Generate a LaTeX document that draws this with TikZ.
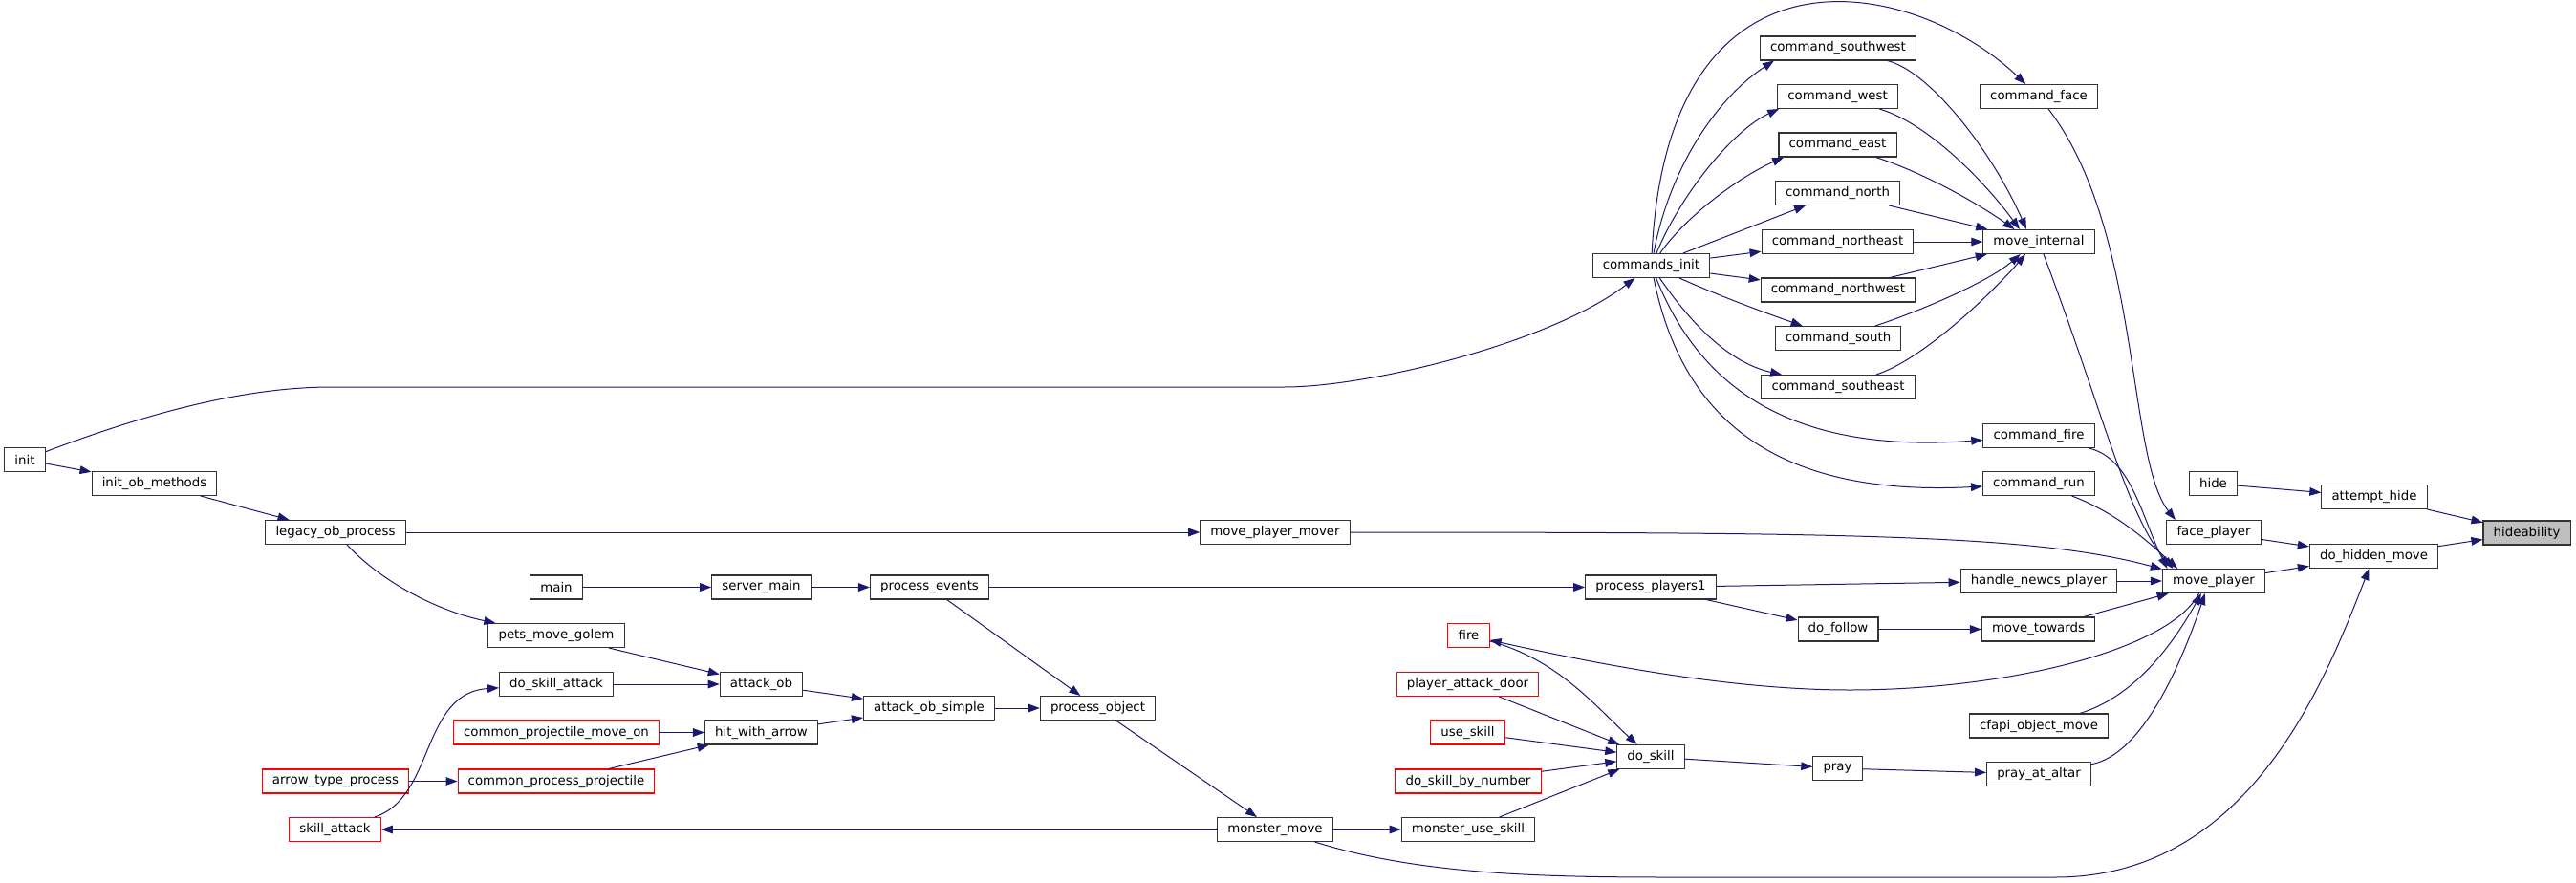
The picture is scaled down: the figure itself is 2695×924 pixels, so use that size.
\documentclass[tikz,border=0pt]{standalone}
\usepackage{fontspec}
\setmainfont{DejaVu Sans}
\usetikzlibrary{arrows.meta}
\definecolor{midnight}{HTML}{191970}
\definecolor{grey75}{HTML}{BFBFBF}

\begin{document}
\begin{tikzpicture}[x=0.75pt, y=-0.75pt,
    func/.style = {draw=black!80, line width=0.8pt, fill=white, minimum height=18.75pt,
                   inner xsep=8pt, inner ysep=0pt, font=\fontsize{10}{12}\selectfont},
    trunc/.style = {func, draw=red},
    root/.style = {func, fill=grey75},
    call/.style = {draw=midnight, line width=0.75pt, -{Triangle[length=9pt, width=6.5pt]}}]
    \useasboundingbox (0,0) rectangle (2695,924);

        \node[root] (1) at (2643.5,557.5) {hideability};
        \node[func] (2) at (2484,520) {attempt\_hide};
        \node[func] (3) at (2315.5,506) {hide};
        \node[func] (4) at (2483.5,582) {do\_hidden\_move};
        \node[func] (5) at (2316,557) {face\_player};
        \node[func] (6) at (2133,101) {command\_face};
        \node[func] (7) at (1727.5,278) {commands\_init};
        \node[func] (8) at (26,481) {init};
        \node[func] (9) at (2316,608) {move\_player};
        \node[func] (10) at (2133,759.5) {cfapi\_object\_move};
        \node[func] (11) at (2133,456) {command\_fire};
        \node[func] (12) at (2133,506) {command\_run};
        \node[func] (13) at (2133,608) {handle\_newcs\_player};
        \node[func] (14) at (1727,614.5) {process\_players1};
        \node[func] (15) at (972.5,614.5) {process\_events};
        \node[func] (16) at (796.5,614.5) {server\_main};
        \node[func] (17) at (582,614.5) {main};
        \node[func] (18) at (2133,253) {move\_internal};
        \node[func] (19) at (1922.5,151.5) {command\_east};
        \node[func] (20) at (1922.5,202) {command\_north};
        \node[func] (21) at (1922.5,253) {command\_northeast};
        \node[func] (22) at (1923,303.5) {command\_northwest};
        \node[func] (23) at (1923,354) {command\_south};
        \node[func] (24) at (1923,405) {command\_southeast};
        \node[func] (25) at (1923,50.5) {command\_southwest};
        \node[func] (26) at (1922.5,101) {command\_west};
        \node[func] (27) at (1334,557) {move\_player\_mover};
        \node[func] (28) at (351,557) {legacy\_ob\_process};
        \node[func] (29) at (161.5,506) {init\_ob\_methods};
        \node[func] (30) at (582,665) {pets\_move\_golem};
        \node[func] (31) at (2132.5,658.5) {move\_towards};
        \node[func] (32) at (1923,658.5) {do\_follow};
        \node[func] (33) at (2133,810) {pray\_at\_altar};
        \node[func] (34) at (1922.5,804) {pray};
        \node[func] (35) at (1727,792) {do\_skill};
        \node[trunc] (36) at (1536.5,665) {fire};
        \node[trunc] (37) at (1535.5,716) {player\_attack\_door};
        \node[trunc] (38) at (1535.5,766.5) {use\_skill};
        \node[trunc] (39) at (1536,817.5) {do\_skill\_by\_number};
        \node[func] (40) at (1536,868) {monster\_use\_skill};
        \node[func] (41) at (1334,868) {monster\_move};
        \node[func] (42) at (1148.5,741) {process\_object};
        \node[func] (43) at (972,741) {attack\_ob\_simple};
        \node[func] (44) at (796.5,716) {attack\_ob};
        \node[func] (45) at (582,716) {do\_skill\_attack};
        \node[trunc] (46) at (350.5,868) {skill\_attack};
        \node[func] (47) at (796.5,766.5) {hit\_with\_arrow};
        \node[trunc] (48) at (582,766.5) {common\_projectile\_move\_on};
        \node[trunc] (49) at (582,817.5) {common\_process\_projectile};
        \node[trunc] (50) at (351,817.5) {arrow\_type\_process};

        \draw[call] (2) -- (1);
        \draw[call] (4) -- (1);
        \draw[call] (3) -- (2);
        \draw[call] (5) -- (4);
        \draw[call] (9) -- (4);
        \draw[call] (41) .. controls (1500,920) and (1650,918) .. (1800,918) -- (2150,918)
            .. controls (2350,918) and (2430,720) .. (4);
        \draw[call] (6) .. controls (2240,240) and (2225,480) .. (5.162);
        \draw[call] (7) .. controls (1745,-75) and (2000,-25) .. (6);
        \draw[call] (8) .. controls (160,430) and (260,405) .. (347,405) -- (1344,405)
            .. controls (1430,405) and (1620,360) .. (7);
        \draw[call] (7) .. controls (1780,410) and (1880,475) .. (11);
        \draw[call] (7) .. controls (1760,440) and (1860,520) .. (12);
        \draw[call] (7) .. controls (1748,170) and (1800,100) .. (25.191);
        \draw[call] (7) .. controls (1760,200) and (1815,135) .. (26.192);
        \draw[call] (7) .. controls (1765,225) and (1820,185) .. (19.193);
        \draw[call] (7) -- (20);
        \draw[call] (7) -- (21);
        \draw[call] (7) -- (22);
        \draw[call] (7) .. controls (1800,310) and (1840,325) .. (23);
        \draw[call] (7) .. controls (1770,340) and (1810,380) .. (24);

        \draw[call] (25) .. controls (2020,75) and (2085,160) .. (18.135);
        \draw[call] (26) .. controls (2020,130) and (2080,195) .. (18.147);
        \draw[call] (19) .. controls (2010,180) and (2065,210) .. (18.153);
        \draw[call] (20) -- (18);
        \draw[call] (21) -- (18);
        \draw[call] (22) -- (18);
        \draw[call] (23) .. controls (2010,325) and (2080,295) .. (18.214);
        \draw[call] (24) .. controls (2015,375) and (2090,300) .. (18.223);

        \draw[call] (18) .. controls (2200,430) and (2225,540) .. (9.163);
        \draw[call] (27) .. controls (1950,557) and (2130,560) .. (9.167);
        \draw[call] (11) .. controls (2230,480) and (2240,540) .. (9.165);
        \draw[call] (12) .. controls (2210,535) and (2240,560) .. (9.161);
        \draw[call] (13) -- (9);
        \draw[call] (31) -- (9);
        \draw[call] (10) .. controls (2230,730) and (2270,680) .. (9.225);
        \draw[call] (33) .. controls (2240,790) and (2280,700) .. (9.235);
        \draw[call] (9.220) .. controls (2270,680) and (2100,722) .. (1935,722)
            .. controls (1800,722) and (1650,690) .. (36);

        \draw[call] (36) .. controls (1630,690) and (1670,740) .. (35);
        \draw[call] (37) -- (35);
        \draw[call] (38) -- (35);
        \draw[call] (39) -- (35);
        \draw[call] (40) -- (35);
        \draw[call] (35) -- (34);
        \draw[call] (34) -- (33);

        \draw[call] (14) -- (13);
        \draw[call] (14) -- (32);
        \draw[call] (32) -- (31);
        \draw[call] (17) -- (16);
        \draw[call] (16) -- (15);
        \draw[call] (15) -- (14);
        \draw[call] (15) -- (42);

        \draw[call] (8) -- (29);
        \draw[call] (29) -- (28);
        \draw[call] (28) -- (27);
        \draw[call] (28) .. controls (400,610) and (460,640) .. (30);
        \draw[call] (30) -- (44);
        \draw[call] (45) -- (44);
        \draw[call] (44) -- (43);
        \draw[call] (47) -- (43);
        \draw[call] (43) -- (42);
        \draw[call] (48) -- (47);
        \draw[call] (49) -- (47);
        \draw[call] (50) -- (49);
        \draw[call] (46) .. controls (455,835) and (440,725) .. (45);
        \draw[call] (42) -- (41);
        \draw[call] (41) -- (46);
        \draw[call] (41) -- (40);
    \end{tikzpicture}
\end{document}
